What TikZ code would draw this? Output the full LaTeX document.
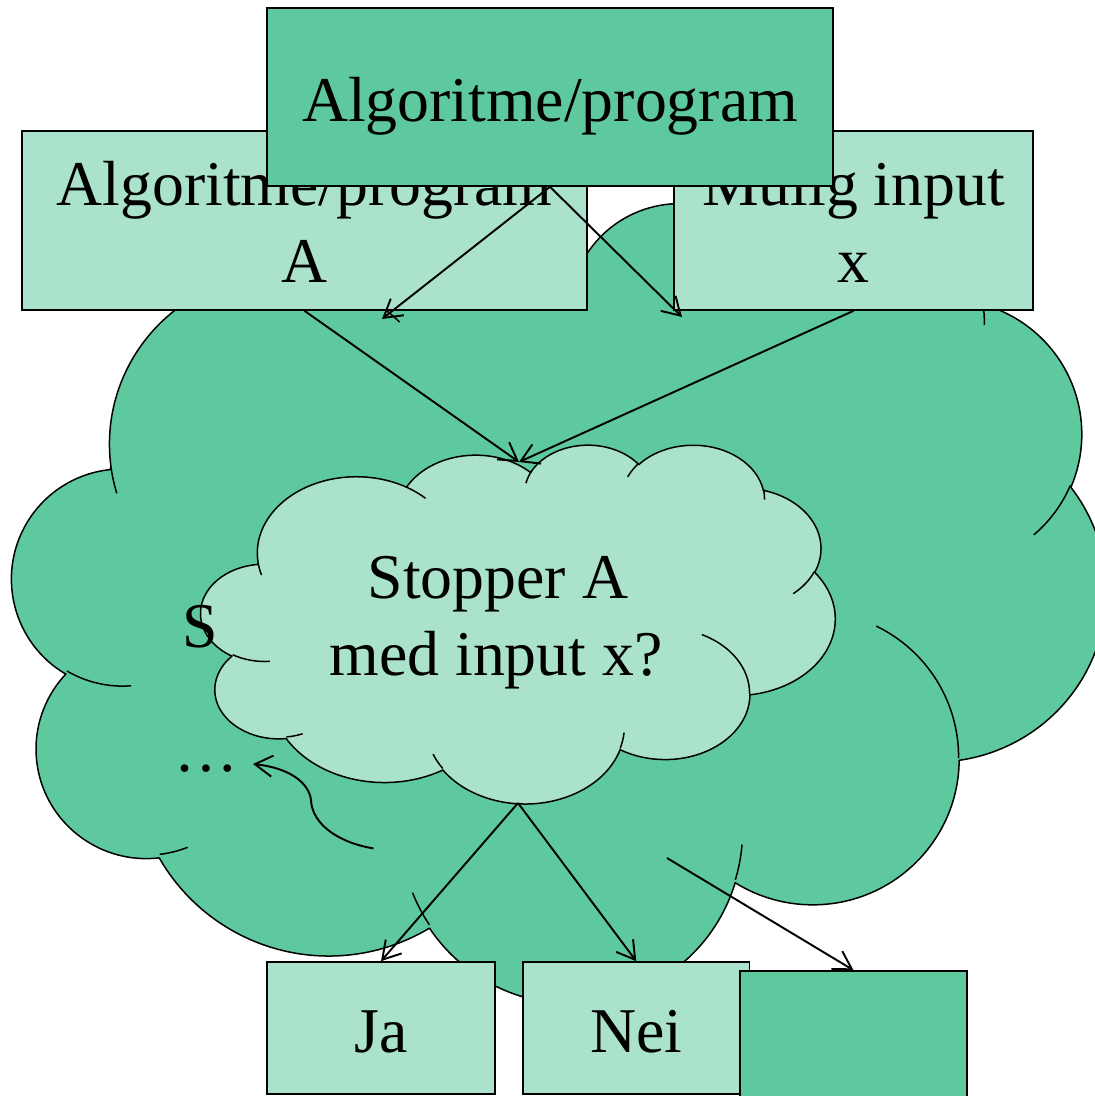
\documentclass[tikz,border=0pt]{standalone}
\usepackage{fontspec}
\setmainfont{Liberation Serif}
\usetikzlibrary{arrows.meta}
\definecolor{dkg}{RGB}{94,200,158}
\definecolor{ltg}{RGB}{170,226,203}
% --- PowerPoint-style cloud (DrawingML preset), drawn from its arc list ---
\newcommand\cloudmove[2]{%
  \pgfmathsetmacro\cPx{\cXo+(#1)*\cSX}%
  \pgfmathsetmacro\cPy{\cYo+(#2)*\cSY}%
  \xdef\cpath{\cpath (\cPx,\cPy)}}
\newcommand\cloudarc[4]{%
  \pgfmathsetmacro\cTa{atan2((#1)*sin(#3),(#2)*cos(#3))}%
  \pgfmathsetmacro\cTb{atan2((#1)*sin((#3)+(#4)),(#2)*cos((#3)+(#4)))}%
  \pgfmathsetmacro\cTd{mod(\cTb-(\cTa)+720,360)}%
  \pgfmathsetmacro\cSa{0-(\cTa)}%
  \pgfmathsetmacro\cSd{0-(\cTd)}%
  \pgfmathsetmacro\cRx{(#1)*\cSX*0.02}%
  \pgfmathsetmacro\cRy{(#2)*\cSY*0.02}%
  \xdef\cpath{\cpath arc[start angle=\cSa,delta angle=\cSd,x radius=\cRx cm,y radius=\cRy cm]}}
\newcommand\pptcloud[5]{%
  \def\cXo{#1}\def\cYo{#2}%
  \pgfmathsetmacro\cSX{(#3)/43.2}%
  \pgfmathsetmacro\cSY{(#4)/43.2}%
  \gdef\cpath{}%
  \cloudmove{3.9}{14.37}%
  \cloudarc{6.753}{9.190}{-190.48748}{123.78053}%
  \cloudarc{5.333}{7.267}{-144.10238}{89.94523}%
  \cloudarc{4.365}{5.945}{-145.80792}{99.72302}%
  \cloudarc{4.857}{6.595}{-130.98607}{117.24173}%
  \cloudarc{5.333}{7.273}{-78.70888}{109.02692}%
  \cloudarc{6.775}{9.220}{-46.26725}{130.269}%
  \cloudarc{5.785}{7.867}{0.62502}{114.03333}%
  \cloudarc{6.752}{9.215}{22.4516}{115.17255}%
  \cloudarc{7.720}{10.543}{66.24263}{75.71102}%
  \cloudarc{4.360}{5.918}{-274.94208}{146.73557}%
  \cloudarc{4.345}{5.945}{-246.8285}{152.51885}%
  \edef\cnext{\noexpand\path[cloudline,fill=#5] \cpath -- cycle;}\cnext
  \gdef\cpath{}%
  \cloudmove{4.693}{26.177}\cloudarc{4.345}{5.945}{86.742}{26.4295}%
  \cloudmove{6.928}{34.899}\cloudarc{4.360}{5.918}{73.61047}{11.44747}%
  \cloudmove{16.478}{39.090}\cloudarc{6.752}{9.215}{137.62415}{14.0811}%
  \cloudmove{28.827}{34.751}\cloudarc{6.752}{9.215}{6.45327}{15.99835}%
  \cloudmove{34.129}{22.954}\cloudarc{5.785}{7.867}{-70.29235}{70.91737}%
  \cloudmove{41.798}{15.354}\cloudarc{5.333}{7.273}{30.31803}{27.7515}%
  \cloudmove{38.324}{5.426}\cloudarc{4.857}{6.595}{-13.74433}{14.8589}%
  \cloudmove{29.078}{3.952}\cloudarc{4.857}{6.595}{-149.18145}{18.19537}%
  \cloudmove{22.141}{4.720}\cloudarc{4.365}{5.945}{-163.49427}{19.01003}%
  \cloudmove{14.000}{5.192}\cloudarc{6.753}{9.190}{-66.70695}{12.31935}%
  \cloudmove{4.127}{15.789}\cloudarc{6.753}{9.190}{-202.36}{11.87}%
  \edef\cnext{\noexpand\path[cloudline] \cpath;}\cnext
}
\begin{document}
\begin{tikzpicture}[x=0.02cm,y=-0.02cm,
  cloudline/.style={draw=black,line width=0.85pt,line join=round},
  boxD/.style={draw=black,line width=0.95pt,fill=dkg,inner sep=0pt},
  boxL/.style={draw=black,line width=0.95pt,fill=ltg,inner sep=0pt},
  lbl/.style={anchor=base,inner sep=0pt,font=\fontsize{36.3pt}{40pt}\selectfont},
  conn/.style={draw=black,line width=1.1pt,-{Straight Barb[length=10pt,width=12pt]}}]
\useasboundingbox (0,0) rectangle (1095,1096);
\clip (0,0) rectangle (1095,1096);
% clouds
\pptcloud{12.3}{201}{1093.6}{800}{dkg}
\pptcloud{201}{444}{634}{358.7}{ltg}
% upper boxes
\node[boxL,minimum width=11.30cm,minimum height=3.58cm] (abox) at (304.5,220.5) {};
\node[lbl] (a1) at (304.5,205) {Algoritme/program};
\node[lbl] (a2) at (304.5,282) {A};
\node[boxL,minimum width=7.18cm,minimum height=3.58cm] (xbox) at (853.5,220.5) {};
\node[lbl] (x1) at (853.5,205) {Mulig input};
\node[lbl] (x2) at (853.5,282) {x};
\node[boxD,minimum width=11.32cm,minimum height=3.56cm] (topbox) at (550,97) {};
\node[lbl] (t1) at (550,121) {Algoritme/program};
% lower boxes
\node[boxL,minimum width=4.56cm,minimum height=2.64cm] (ja) at (381,1028) {};
\node[lbl] (jat) at (381,1052) {Ja};
\node[boxL,minimum width=4.53cm,minimum height=2.64cm] (nei) at (636.25,1028) {};
\node[lbl] (neit) at (636.25,1052) {Nei};
\node[boxD,minimum width=4.54cm,minimum height=2.60cm] (blank) at (853.5,1036) {};
% cloud texts
\node[lbl] (q1) at (498,598) {Stopper A};
\node[lbl] (q2) at (496,675) {med input x?};
\node[lbl] (s) at (200,647) {S};
\node[lbl] (dots) at (206,771) {…};
% connector end points
\coordinate (tipA) at (382,319);
\coordinate (tipX) at (682,317);
\coordinate (cloudtop) at (519,462);
\coordinate (cloudbot) at (518,803);
\coordinate (sidestart) at (667,858);
\coordinate (curvestart) at (373.5,848.4);
\coordinate (curvemid) at (311,800);
\coordinate (curveend) at (253,764);
% connectors
\draw[conn] (topbox.south) -- (tipA);
\draw[conn] (topbox.south) -- (tipX);
\draw[conn] (abox.south) -- (cloudtop);
\draw[conn] (xbox.south) -- (cloudtop);
\draw[conn] (cloudbot) -- (ja.north);
\draw[conn] (cloudbot) -- (nei.north);
\draw[conn] (sidestart) -- (blank.north);
\draw[conn] (curvestart) .. controls (340,843) and (312,825) .. (curvemid)
  .. controls (309,783) and (290,768) .. (curveend);
\end{tikzpicture}
\end{document}
